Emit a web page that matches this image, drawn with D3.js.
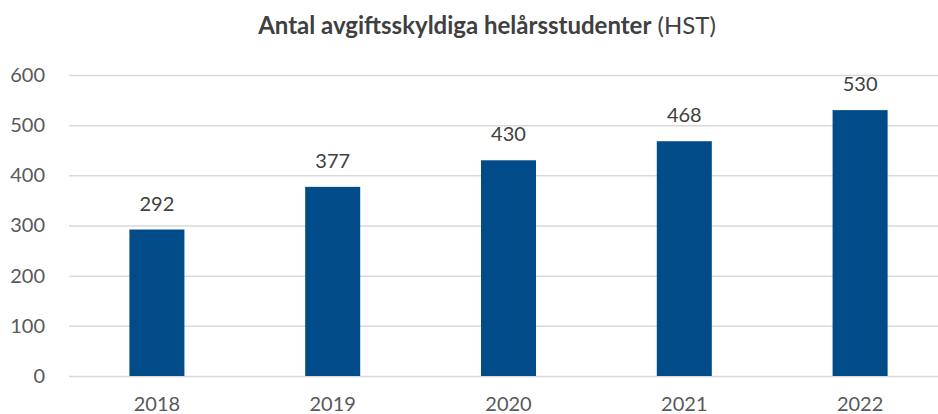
<!DOCTYPE html>
<html>
<head>
<meta charset="utf-8">
<script src="https://cdn.jsdelivr.net/npm/d3@7"></script>
<style>
  body { margin: 0; background: #fff; }
  svg { display: block; font-family: Lato, 'Open Sans', sans-serif; }
</style>
</head>
<body>
<svg width="938" height="414"></svg>
<script>
const years = ['2018', '2019', '2020', '2021', '2022']
const hst = [292, 377, 430, 468, 530]
const yTicks = [0, 100, 200, 300, 400, 500, 600]

const svg = d3.select('svg')
const plotLeft = 69
const plotRight = 948
const plotTop = 75
const plotBottom = 376

const x = d3.scaleBand()
  .domain(years)
  .range([plotLeft, plotRight])
  .paddingInner(0.687)
  .paddingOuter(0.3435)

const y = d3.scaleLinear()
  .domain([0, 600])
  .range([plotBottom, plotTop])

// title
const title = svg.append('text')
  .attr('x', 487)
  .attr('y', 34)
  .attr('text-anchor', 'middle')
  .attr('fill', '#404040')
  .style('font-size', '24px')
title.append('tspan').attr('font-weight', 'bold').text('Antal avgiftsskyldiga helårsstudenter')
title.append('tspan').text(' (HST)')

// gridlines + y labels
const yAxis = svg.append('g')
  .attr('transform', `translate(${plotLeft},0)`)
  .call(d3.axisLeft(y).tickValues(yTicks).tickSize(-(plotRight - plotLeft)).tickPadding(24))
yAxis.select('.domain').remove()
yAxis.selectAll('.tick line').attr('stroke', '#d9d9d9').attr('stroke-width', 1.5)
yAxis.selectAll('.tick text')
  .attr('fill', '#595959')
  .style('font-size', '20px')
  .style('font-family', 'Lato, sans-serif')

// bars
svg.selectAll('rect.bar').data(years)
  .enter().append('rect')
    .attr('class', 'bar')
    .attr('x', d => x(d))
    .attr('y', (d, i) => y(hst[i]))
    .attr('width', x.bandwidth())
    .attr('height', (d, i) => y(0) - y(hst[i]))
    .attr('fill', '#024b89')

// value labels
svg.selectAll('text.val').data(years)
  .enter().append('text')
    .attr('class', 'val')
    .attr('x', d => x(d) + x.bandwidth() / 2)
    .attr('y', (d, i) => y(hst[i]) - 19)
    .attr('text-anchor', 'middle')
    .attr('fill', '#404040')
    .style('font-size', '20px')
    .text((d, i) => hst[i])

// x labels
svg.selectAll('text.year').data(years)
  .enter().append('text')
    .attr('class', 'year')
    .attr('x', d => x(d) + x.bandwidth() / 2)
    .attr('y', 411)
    .attr('text-anchor', 'middle')
    .attr('fill', '#595959')
    .style('font-size', '20px')
    .text(d => d)
</script>
</body>
</html>
